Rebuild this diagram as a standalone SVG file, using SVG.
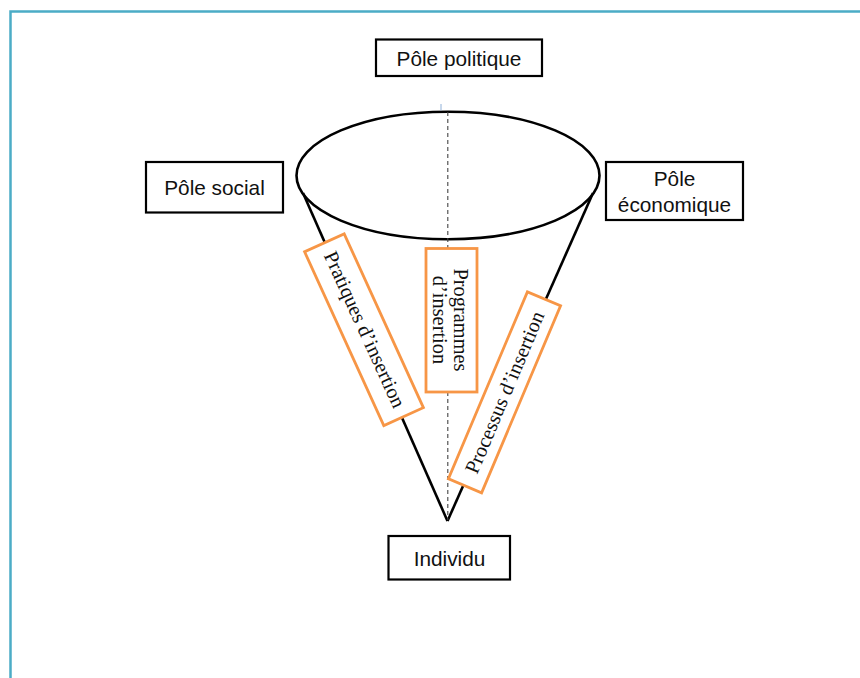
<svg xmlns="http://www.w3.org/2000/svg" width="860" height="678" viewBox="0 0 860 678">
<style>
.box{fill:#fff;stroke:#000;stroke-width:2.2}
.obox{fill:#fff;stroke:#f79646;stroke-width:2.8}
.lbl{font-family:"Liberation Sans",Arial,sans-serif;font-size:20.8px;fill:#111;text-anchor:middle}
.ser{font-family:"Liberation Serif","Times New Roman",serif;font-size:20.4px;fill:#111;text-anchor:middle}
.cone{fill:none;stroke:#000;stroke-width:2.6}
</style>
<rect x="0" y="0" width="860" height="678" fill="#fff"/>
<path d="M10.5 678 V11.5 H860" fill="none" stroke="#4bacc6" stroke-width="2.5"/>
<g id="connectors">
  <ellipse class="cone" cx="448" cy="175.5" rx="151.5" ry="63.8" fill="#fff"/>
  <line class="cone" x1="303" y1="193" x2="447.5" y2="521"/>
  <line class="cone" x1="593" y1="193" x2="447.5" y2="521"/>
  <line x1="447.8" y1="112" x2="447.8" y2="520" stroke="#444" stroke-width="1.1" stroke-dasharray="4,3"/>
  <line x1="441" y1="104" x2="441" y2="110.5" stroke="#8fb0d8" stroke-width="1"/>
</g>
<g id="pole-politique">
  <rect class="box" x="376" y="39.5" width="166" height="36.5"/>
  <text class="lbl" x="459" y="66">Pôle politique</text>
</g>
<g id="pole-social">
  <rect class="box" x="146" y="162" width="137" height="50.5"/>
  <text class="lbl" x="214.5" y="195">Pôle social</text>
</g>
<g id="pole-economique">
  <rect class="box" x="606" y="162" width="137" height="58"/>
  <text class="lbl" x="674.5" y="185.7">Pôle</text>
  <text class="lbl" x="674.5" y="212.3">économique</text>
</g>
<g id="individu">
  <rect class="box" x="388.5" y="536" width="121.5" height="43.5"/>
  <text class="lbl" x="449.5" y="566">Individu</text>
</g>
<g id="pratiques" transform="translate(364,329.7) rotate(65.5)">
  <rect class="obox" x="-95.5" y="-21.75" width="191" height="43.5"/>
  <text class="ser" x="0" y="6">Pratiques d’insertion</text>
</g>
<g id="programmes">
  <rect class="obox" x="426" y="248.5" width="51" height="143.5"/>
  <g transform="translate(451.5,320) rotate(90)">
    <text class="ser" x="0" y="-2">Programmes</text>
    <text class="ser" x="0" y="18.5">d’insertion</text>
  </g>
</g>
<g id="processus" transform="translate(504.5,392.3) rotate(-67.1)">
  <rect class="obox" x="-101.5" y="-18" width="203" height="36"/>
  <text class="ser" x="0" y="7">Processus d’insertion</text>
</g>
</svg>
